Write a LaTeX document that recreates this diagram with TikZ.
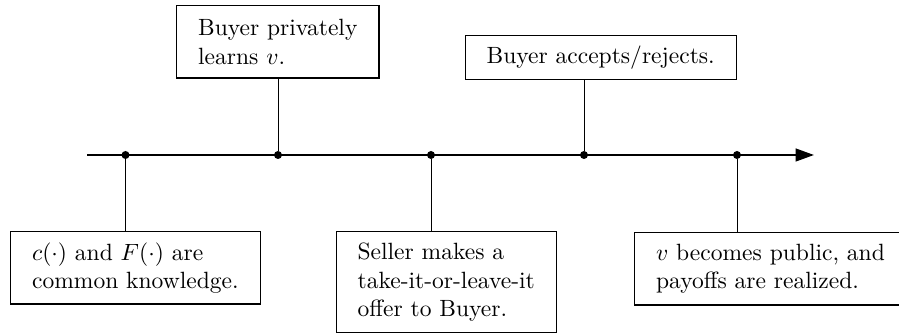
\documentclass[tikz,border=0pt]{standalone}
\usetikzlibrary{arrows,arrows.meta}

\tikzset{
  event/.style={draw, line width=0.5pt, anchor=west, align=left, inner xsep=9.15pt, inner ysep=0pt, minimum height=#1},
  tick/.style={circle, fill, inner sep=0pt, minimum size=3.4pt},
}

\begin{document}
\begin{tikzpicture}[x=0.425pt, y=-0.425pt]
	\useasboundingbox (0,0) rectangle (899,335);
	\coordinate (start) at (87,155);
	\coordinate (end) at (814,155);
	\draw [line width=0.9pt, -{Triangle[length=7.8pt, width=5.4pt]}] (start) -- (end);
	\foreach \xpos [count=\i] in {125.5, 278, 431, 584, 737} {
		\node [tick] (d\i) at (\xpos, 155) {};
	}
	% events above the line
	\node [event=30.7pt] (b1) at (176, 41.9) {Buyer privately\\ learns $v$.};
	\node [event=18.7pt] (b2) at (464.5, 57.7) {Buyer accepts/rejects.};
	% events below the line
	\node [event=30.7pt] (b3) at (10, 267.9) {$c(\cdot)$ and $F(\cdot)$ are\\ common knowledge.};
	\node [event=42.9pt] (b4) at (335.5, 282.2) {Seller makes a\\ take-it-or-leave-it\\ offer to Buyer.};
	\node [event=30.7pt] (b5) at (634, 268.8) {$v$ becomes public, and\\ payoffs are realized.};
	\draw (d1) -- (d1 |- b3.north);
	\draw (d2) -- (d2 |- b1.south);
	\draw (d3) -- (d3 |- b4.north);
	\draw (d4) -- (d4 |- b2.south);
	\draw (d5) -- (d5 |- b5.north);
\end{tikzpicture}
\end{document}
